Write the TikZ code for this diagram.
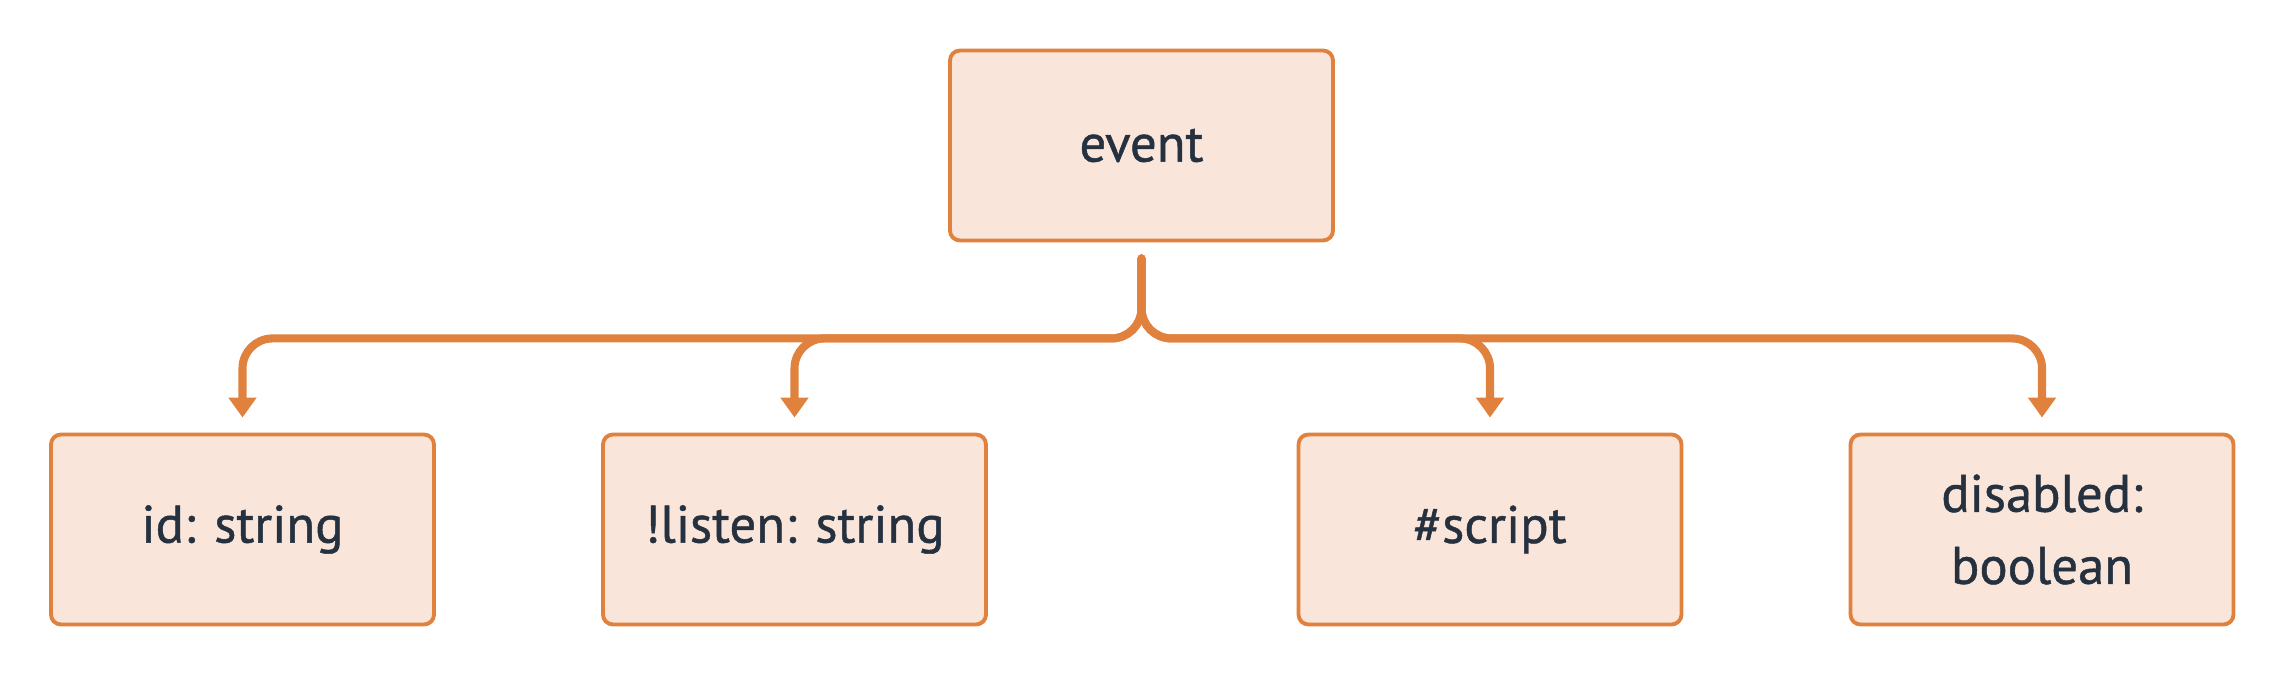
\documentclass[tikz,border=0pt]{standalone}
\usepackage{fontspec}
\setmainfont{PT Sans}[FakeBold=0.9]
\usepackage{tikz}
\usetikzlibrary{arrows.meta,positioning}
\definecolor{accent}{HTML}{E0823D}
\definecolor{soft}{HTML}{F9E5D9}
\definecolor{ink}{HTML}{263140}

\begin{document}
\begin{tikzpicture}[
box/.style={draw=accent,line width=1.1pt,rounded corners=1mm,fill=soft,
  minimum width=3.83cm,minimum height=1.9cm,align=center,text=ink,
  font=\fontsize{15pt}{20.5pt}\selectfont},
arr/.style={-{Triangle[length=2mm,width=2.7mm]},line width=2.3pt,color=accent,
  line cap=round,rounded corners=3mm}]
\useasboundingbox (0,0) rectangle (22.84,-6.76);
\node[box] (ev) at (11.415,-1.455) {event};
\node[box] (id) at (2.425,-5.295) {id: string};
\node[box] (listen) at (7.945,-5.295) {!listen: string};
\node[box] (script) at (14.9,-5.295) {\#script};
\node[box] (dis) at (20.42,-5.295) {disabled:\\boolean};
\coordinate (top) at ([yshift=-1.6mm]ev.south);
\foreach \t in {id,listen,script,dis}
  \draw[arr] (top) -- ([yshift=-0.8cm]top) -| ([yshift=1.5mm]\t.north);
\end{tikzpicture}
\end{document}
